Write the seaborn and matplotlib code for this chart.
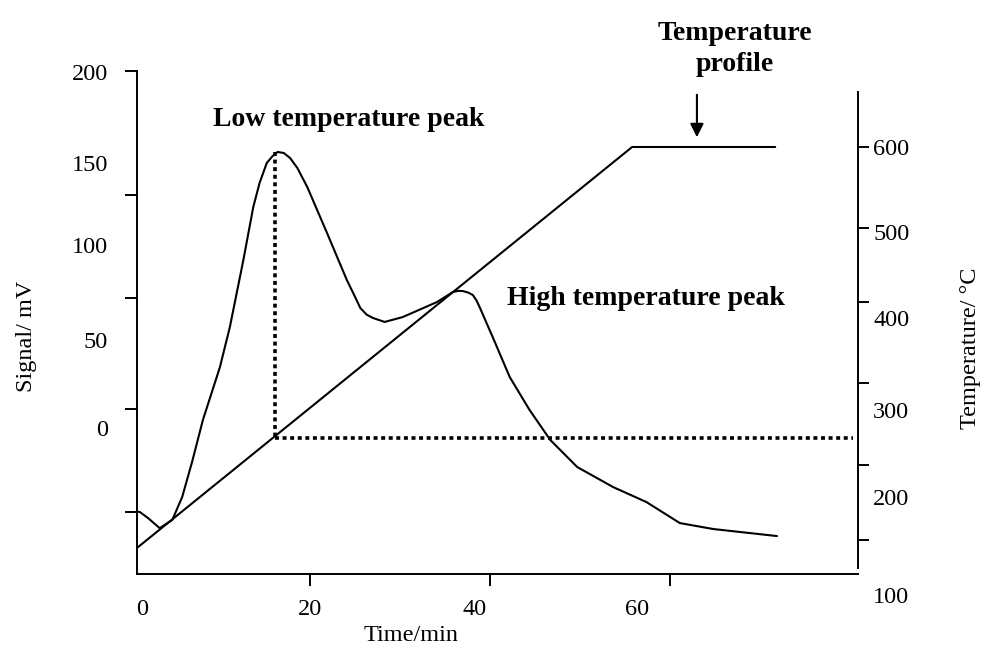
import matplotlib
matplotlib.use("Agg")
import matplotlib.pyplot as plt
import pandas as pd
import seaborn as sns

# Signal trace (mV) against time (min)
time_min = [0.3, 1.1, 2.0, 3.3, 4.7, 5.8, 6.9, 8.1, 10.0, 11.1, 12.6, 13.7, 14.4, 15.2, 15.8,
            16.4, 17.1, 17.8, 18.6, 19.7, 21.9, 24.1, 24.9, 25.6, 26.3, 27.0, 28.3, 30.3,
            34.1, 35.9, 36.5, 37.0, 37.6, 38.1, 38.5, 38.9, 40.3, 42.2, 44.4, 46.7, 49.7,
            53.7, 57.4, 61.1, 64.8, 71.9]
signal_mv = [0.5, 0.0, -2.7, -7.3, -3.6, 6.8, 22.7, 41.7, 65.8, 83.9, 114.3, 138.3, 149.2, 158.3, 161.2,
             163.3, 162.8, 160.5, 156.0, 147.4, 126.5, 105.2, 98.5, 92.5, 89.5, 88.0, 86.2, 88.4,
             95.2, 99.8, 100.3, 100.2, 99.5, 98.4, 96.0, 92.5, 79.4, 61.2, 46.3, 32.7, 20.4,
             11.3, 4.5, -5.0, -7.7, -10.9]

# Temperature programme (right axis)
profile_time = [0.9, 55.8, 71.7]
profile_temp = [91, 600, 600]

# dotted guide lines from the low temperature peak
peak_time = 16.1
peak_signal = 163.3
guide_signal = 33.6
guide_end = 80.3

# tick labels and where they sit on the scan (they drift from the tick marks)
x_labels = ["0", "20", "40", "60"]
x_label_pos = [1.3, 20.0, 38.3, 56.4]
x_marks = [20, 40, 60]
left_labels = ["200", "150", "100", "50", "0"]
left_label_pos = [199.5, 158.3, 121.1, 78.0, 38.1]
left_marks = [200, 143.8, 97.0, 46.7, 0]
right_labels = ["600", "500", "400", "300", "200", "100"]
right_label_pos = [600, 492, 382.4, 265.4, 154.7, 30]
right_marks = [600, 497, 403, 300, 195, 100]

sig = pd.DataFrame({"time": time_min, "signal": signal_mv})
prof = pd.DataFrame({"time": profile_time, "temp": profile_temp})

sns.set_theme(style="white", rc={"axes.edgecolor": "black", "axes.linewidth": 1.4,
                                 "text.color": "black", "xtick.color": "black",
                                 "ytick.color": "black", "axes.labelcolor": "black"})
plt.rcParams["font.family"] = ["Liberation Serif", "DejaVu Serif"]

W, H = 984, 646
fig = plt.figure(figsize=(W / 100, H / 100), dpi=100)
L, R, T, B = 137, 858, 71, 574
ax = fig.add_axes([L / W, 1 - B / H, (R - L) / W, (B - T) / H])
B2 = 620
ax2 = fig.add_axes([L / W, 1 - B2 / H, (R - L) / W, (B2 - T) / H])
ax2.patch.set_visible(False)

xlim = (0.78, 80.9)

sns.lineplot(data=sig, x="time", y="signal", ax=ax, color="black", lw=1.5,
             estimator=None, sort=False)
ax.plot([peak_time, peak_time], [peak_signal, guide_signal], color="black",
        lw=2.6, linestyle=(0, (1.1, 1.0)))
ax.plot([peak_time, guide_end], [guide_signal, guide_signal], color="black",
        lw=2.6, linestyle=(0, (1.1, 1.0)))
ax.set_xlim(*xlim)
ax.set_ylim(-28.1, 200)

sns.lineplot(data=prof, x="time", y="temp", ax=ax2, color="black", lw=1.5,
             estimator=None, sort=False)
ax2.set_xlim(*xlim)
ax2.set_ylim(-1.8, 696.7)

# main axis styling
for s in ["top", "right"]:
    ax.spines[s].set_visible(False)
ax.xaxis.remove_overlapping_locs = False
ax.yaxis.remove_overlapping_locs = False
ax.set_xticks(x_label_pos)
ax.set_xticklabels(x_labels)
ax.set_xticks(x_marks, minor=True)
ax.set_yticks(left_label_pos)
ax.set_yticklabels(left_labels)
ax.set_yticks(left_marks, minor=True)
ax.tick_params(axis="both", which="major", length=0, labelsize=17.5)
ax.tick_params(axis="x", which="major", pad=18)
ax.tick_params(axis="y", which="major", pad=21)
ax.tick_params(axis="x", which="minor", length=8.5, width=1.4, direction="out", bottom=True)
ax.tick_params(axis="y", which="minor", length=9, width=1.4, direction="out", left=True)
ax.set_xlabel("Time/min", fontsize=17.5)
ax.set_ylabel("Signal/ mV", fontsize=17.5)
ax.xaxis.set_label_coords(0.38, -0.101)
ax.yaxis.set_label_coords(-0.139, 0.473)

# temperature axis styling
for s in ["top", "left", "bottom"]:
    ax2.spines[s].set_visible(False)
ax2.spines["right"].set_bounds(64, 670)
ax2.set_xticks([])
ax2.set_xlabel("")
ax2.yaxis.tick_right()
ax2.yaxis.set_label_position("right")
ax2.yaxis.remove_overlapping_locs = False
ax2.set_yticks(right_label_pos)
ax2.set_yticklabels(right_labels)
ax2.set_yticks(right_marks, minor=True)
ax2.tick_params(axis="y", which="major", length=0, pad=11, labelsize=17.5)
ax2.tick_params(axis="y", which="minor", length=8, width=1.4, direction="out", right=True)
ax2.set_ylabel("Temperature/ °C", fontsize=17.5)
ax2.yaxis.set_label_coords(1.141, 0.495)

# annotations
ax.text(24.3, 177.8, "Low temperature peak", ha="center", va="center",
        fontsize=20, fontweight="bold")
ax.text(57.3, 97, "High temperature peak", ha="center", va="center",
        fontsize=20, fontweight="bold", clip_on=False)
ax.text(67.2, 210, "Temperature\nprofile", ha="center", va="center",
        fontsize=20, fontweight="bold", linespacing=1.3, clip_on=False)
ax.annotate("", xy=(63, 168.7), xytext=(63, 190.5), annotation_clip=False,
            arrowprops=dict(arrowstyle="-|>", color="black", lw=1.5, mutation_scale=20))

fig.savefig("out.png", dpi=100)
